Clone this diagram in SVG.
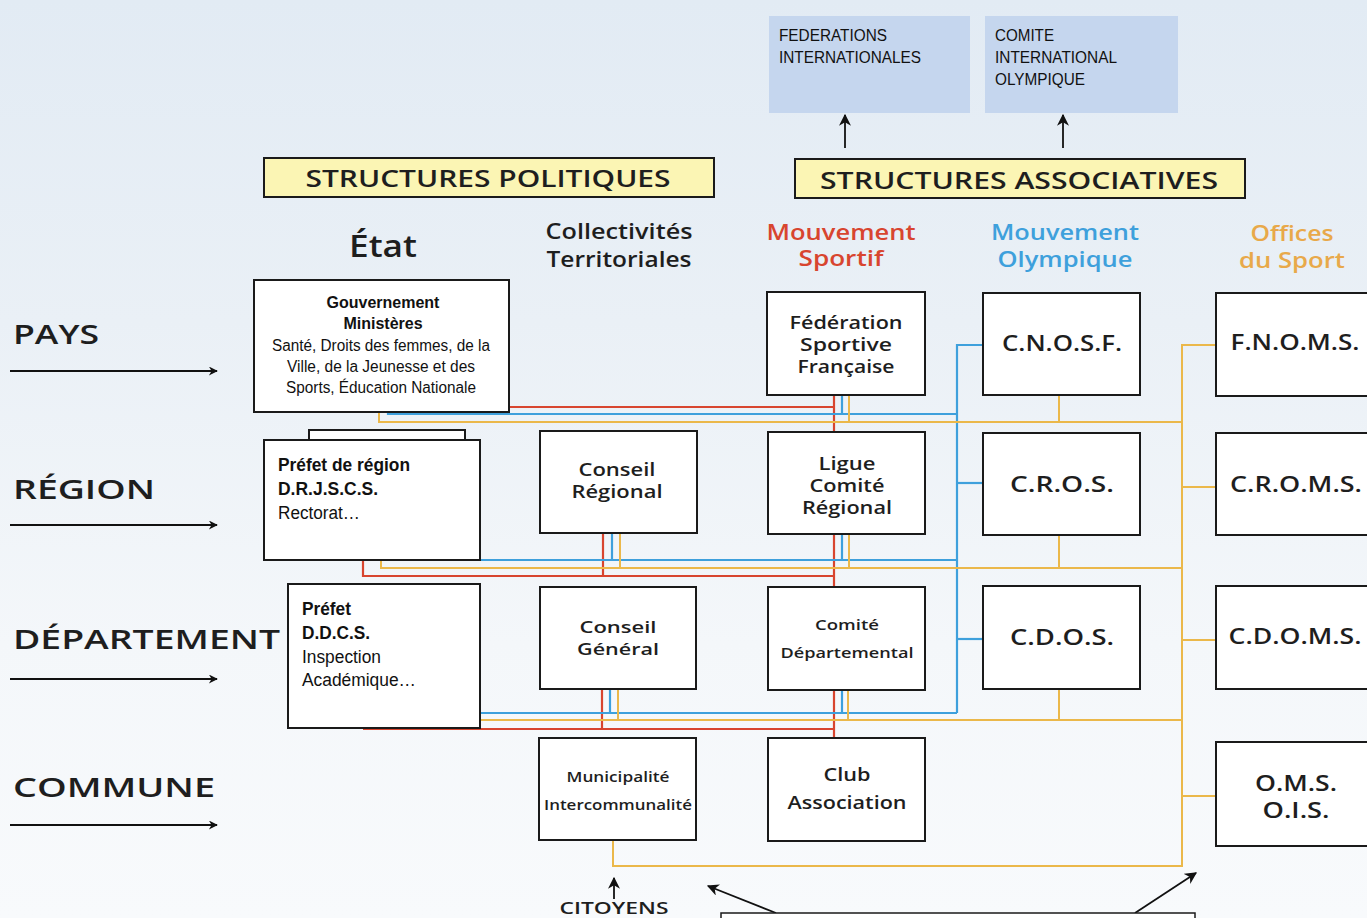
<svg xmlns="http://www.w3.org/2000/svg" width="1367" height="918" viewBox="0 0 1367 918">
<defs>
<linearGradient id="bg" x1="0" y1="0" x2="0" y2="1">
<stop offset="0" stop-color="#e2ebf4"/>
<stop offset="0.35" stop-color="#eaf0f6"/>
<stop offset="0.7" stop-color="#f4f7fa"/>
<stop offset="1" stop-color="#f8fafc"/>
</linearGradient>
<marker id="ah" viewBox="0 0 10 10" refX="9" refY="5" markerWidth="10" markerHeight="9" orient="auto" markerUnits="userSpaceOnUse">
<path d="M0,0 L10,5 L0,10 L3,5 z" fill="#111"/>
</marker>
<marker id="ahs" viewBox="0 0 10 10" refX="9" refY="5" markerWidth="12" markerHeight="12" orient="auto" markerUnits="userSpaceOnUse">
<path d="M0,0 L10,5 L0,10 L3,5 z" fill="#111"/>
</marker>
</defs>
<style>
.box{fill:#fff;stroke:#1a1a1a;stroke-width:2}
.hdr{fill:#fbf5b4;stroke:#1a1a1a;stroke-width:2}
.ibox{fill:#c5d6ee;stroke:none}
.fr{font-family:"Open Sans","DejaVu Sans",sans-serif;font-weight:600;fill:#1e1e1e}
.ar{font-family:"Liberation Sans",Arial,sans-serif;fill:#111}
.b{font-weight:bold}
.c{text-anchor:middle}
.red{stroke:#d8452f;stroke-width:2.2;fill:none}
.blue{stroke:#3ea0dc;stroke-width:2.2;fill:none}
.yel{stroke:#ebb84a;stroke-width:2;fill:none}
.blk{stroke:#111;stroke-width:1.8;fill:none}
</style>
<rect x="0" y="0" width="1367" height="918" fill="url(#bg)"/>

<!-- connectors -->
<g id="connectors">
<!-- red -->
<polyline class="red" points="509,407 834,407"/>
<line class="red" x1="834" y1="395" x2="834" y2="432"/>
<line class="red" x1="834" y1="534" x2="834" y2="587"/>
<line class="red" x1="834" y1="690" x2="834" y2="738"/>
<polyline class="red" points="363,560 363,576 834,576"/>
<line class="red" x1="603" y1="533" x2="603" y2="576"/>
<polyline class="red" points="363,729 834,729"/>
<line class="red" x1="602" y1="689" x2="602" y2="729"/>
<!-- blue -->
<polyline class="blue" points="388,412 388,414 957,414"/>
<line class="blue" x1="842" y1="395" x2="842" y2="414"/>
<polyline class="blue" points="480,560 957,560"/>
<line class="blue" x1="612" y1="533" x2="612" y2="560"/>
<line class="blue" x1="842" y1="534" x2="842" y2="560"/>
<polyline class="blue" points="480,713 957,713"/>
<line class="blue" x1="610" y1="689" x2="610" y2="713"/>
<line class="blue" x1="842" y1="690" x2="842" y2="713"/>
<polyline class="blue" points="983,345 957,345 957,713"/>
<line class="blue" x1="957" y1="483" x2="983" y2="483"/>
<line class="blue" x1="957" y1="639" x2="983" y2="639"/>
<!-- yellow -->
<polyline class="yel" points="379,412 379,422 1182,422"/>
<line class="yel" x1="849" y1="395" x2="849" y2="422"/>
<line class="yel" x1="1059" y1="395" x2="1059" y2="422"/>
<polyline class="yel" points="381,560 381,568 1182,568"/>
<line class="yel" x1="620" y1="533" x2="620" y2="568"/>
<line class="yel" x1="849" y1="534" x2="849" y2="568"/>
<line class="yel" x1="1059" y1="535" x2="1059" y2="568"/>
<polyline class="yel" points="480,720 1182,720"/>
<line class="yel" x1="618" y1="689" x2="618" y2="720"/>
<line class="yel" x1="848" y1="690" x2="848" y2="720"/>
<line class="yel" x1="1059" y1="689" x2="1059" y2="720"/>
<polyline class="yel" points="1216,345 1182,345 1182,866 613,866 613,840"/>
<line class="yel" x1="1182" y1="487" x2="1216" y2="487"/>
<line class="yel" x1="1182" y1="640" x2="1216" y2="640"/>
<line class="yel" x1="1182" y1="796" x2="1216" y2="796"/>
<!-- black arrows -->
<line class="blk" x1="845" y1="148" x2="845" y2="115" marker-end="url(#ahs)"/>
<line class="blk" x1="1063" y1="148" x2="1063" y2="115" marker-end="url(#ahs)"/>
<line class="blk" x1="10" y1="371" x2="217" y2="371" marker-end="url(#ah)"/>
<line class="blk" x1="10" y1="525" x2="217" y2="525" marker-end="url(#ah)"/>
<line class="blk" x1="10" y1="679" x2="217" y2="679" marker-end="url(#ah)"/>
<line class="blk" x1="10" y1="825" x2="217" y2="825" marker-end="url(#ah)"/>
<line class="blk" x1="614" y1="899" x2="614" y2="878" marker-end="url(#ahs)"/>
<line class="blk" x1="776" y1="913" x2="708" y2="886" marker-end="url(#ahs)"/>
<line class="blk" x1="1135" y1="913" x2="1196" y2="873" marker-end="url(#ahs)"/>
</g>

<!-- international boxes -->
<g id="fi">
<rect class="ibox" x="769" y="16" width="201" height="97"/>
<text class="ar" font-size="16" x="779" y="41" textLength="108" lengthAdjust="spacingAndGlyphs">FEDERATIONS</text>
<text class="ar" font-size="16" x="779" y="63" textLength="142" lengthAdjust="spacingAndGlyphs">INTERNATIONALES</text>
</g>
<g id="cio">
<rect class="ibox" x="985" y="16" width="193" height="97"/>
<text class="ar" font-size="16" x="995" y="41" textLength="59" lengthAdjust="spacingAndGlyphs">COMITE</text>
<text class="ar" font-size="16" x="995" y="63" textLength="122" lengthAdjust="spacingAndGlyphs">INTERNATIONAL</text>
<text class="ar" font-size="16" x="995" y="85" textLength="90" lengthAdjust="spacingAndGlyphs">OLYMPIQUE</text>
</g>

<!-- header boxes -->
<g id="h-politiques">
<rect class="hdr" x="264" y="158" width="450" height="39"/>
<text class="fr c" font-size="24" x="488" y="187" textLength="365" lengthAdjust="spacingAndGlyphs">STRUCTURES POLITIQUES</text>
</g>
<g id="h-associatives">
<rect class="hdr" x="795" y="159" width="450" height="39"/>
<text class="fr c" font-size="24" x="1019" y="189" textLength="398" lengthAdjust="spacingAndGlyphs">STRUCTURES ASSOCIATIVES</text>
</g>

<!-- column titles -->
<g id="col-etat"><text class="fr c" font-size="30" x="383" y="257" textLength="68" lengthAdjust="spacingAndGlyphs">État</text></g>
<g id="col-collectivites">
<text class="fr c" font-size="21" x="619" y="239" textLength="147" lengthAdjust="spacingAndGlyphs">Collectivités</text>
<text class="fr c" font-size="21" x="619" y="267" textLength="145" lengthAdjust="spacingAndGlyphs">Territoriales</text>
</g>
<g id="col-sportif">
<text class="fr c" font-size="21" x="841" y="240" style="fill:#d8452f" textLength="149" lengthAdjust="spacingAndGlyphs">Mouvement</text>
<text class="fr c" font-size="21" x="841" y="266" style="fill:#d8452f" textLength="85" lengthAdjust="spacingAndGlyphs">Sportif</text>
</g>
<g id="col-olympique">
<text class="fr c" font-size="21" x="1065" y="240" style="fill:#3ea0dc" textLength="148" lengthAdjust="spacingAndGlyphs">Mouvement</text>
<text class="fr c" font-size="21" x="1065" y="267" style="fill:#3ea0dc" textLength="135" lengthAdjust="spacingAndGlyphs">Olympique</text>
</g>
<g id="col-offices">
<text class="fr c" font-size="21" x="1292" y="241" style="fill:#e8a94a" textLength="83" lengthAdjust="spacingAndGlyphs">Offices</text>
<text class="fr c" font-size="21" x="1292" y="268" style="fill:#e8a94a" textLength="106" lengthAdjust="spacingAndGlyphs">du Sport</text>
</g>

<!-- row labels -->
<g id="row-pays"><text class="fr" font-size="27" x="13" y="344" textLength="86" lengthAdjust="spacingAndGlyphs">PAYS</text></g>
<g id="row-region"><text class="fr" font-size="27" x="13" y="499" textLength="142" lengthAdjust="spacingAndGlyphs">RÉGION</text></g>
<g id="row-departement"><text class="fr" font-size="27" x="13" y="649" textLength="267" lengthAdjust="spacingAndGlyphs">DÉPARTEMENT</text></g>
<g id="row-commune"><text class="fr" font-size="27" x="13" y="797" textLength="202" lengthAdjust="spacingAndGlyphs">COMMUNE</text></g>

<!-- Etat column -->
<g id="gouvernement">
<rect class="box" x="254" y="280" width="255" height="132"/>
<text class="ar b c" font-size="16" x="383" y="308">Gouvernement</text>
<text class="ar b c" font-size="16" x="383" y="329">Ministères</text>
<text class="ar c" font-size="16" x="381" y="351" textLength="218" lengthAdjust="spacingAndGlyphs">Santé, Droits des femmes, de la</text>
<text class="ar c" font-size="16" x="381" y="372" textLength="188" lengthAdjust="spacingAndGlyphs">Ville, de la Jeunesse et des</text>
<text class="ar c" font-size="16" x="381" y="393" textLength="190" lengthAdjust="spacingAndGlyphs">Sports, Éducation Nationale</text>
</g>
<g id="prefet-region">
<rect class="box" x="309" y="430" width="156" height="30"/>
<rect class="box" x="264" y="440" width="216" height="120"/>
<text class="ar b" font-size="18" x="278" y="471" textLength="132" lengthAdjust="spacingAndGlyphs">Préfet de région</text>
<text class="ar b" font-size="18" x="278" y="495" textLength="100" lengthAdjust="spacingAndGlyphs">D.R.J.S.C.S.</text>
<text class="ar" font-size="18" x="278" y="519" textLength="82" lengthAdjust="spacingAndGlyphs">Rectorat…</text>
</g>
<g id="prefet">
<rect class="box" x="288" y="584" width="192" height="144"/>
<text class="ar b" font-size="18" x="302" y="615" textLength="49" lengthAdjust="spacingAndGlyphs">Préfet</text>
<text class="ar b" font-size="18" x="302" y="639" textLength="68" lengthAdjust="spacingAndGlyphs">D.D.C.S.</text>
<text class="ar" font-size="18" x="302" y="663" textLength="79" lengthAdjust="spacingAndGlyphs">Inspection</text>
<text class="ar" font-size="18" x="302" y="686" textLength="114" lengthAdjust="spacingAndGlyphs">Académique…</text>
</g>

<!-- Collectivites column -->
<g id="conseil-regional">
<rect class="box" x="540" y="431" width="157" height="102"/>
<text class="fr c" font-size="18" x="617" y="476" textLength="77" lengthAdjust="spacingAndGlyphs">Conseil</text>
<text class="fr c" font-size="18" x="617" y="498" textLength="91" lengthAdjust="spacingAndGlyphs">Régional</text>
</g>
<g id="conseil-general">
<rect class="box" x="540" y="587" width="156" height="102"/>
<text class="fr c" font-size="17" x="618" y="633" textLength="77" lengthAdjust="spacingAndGlyphs">Conseil</text>
<text class="fr c" font-size="17" x="618" y="655" textLength="82" lengthAdjust="spacingAndGlyphs">Général</text>
</g>
<g id="municipalite">
<rect class="box" x="539" y="738" width="157" height="102"/>
<text class="fr c" font-size="15" x="618" y="782" textLength="103" lengthAdjust="spacingAndGlyphs">Municipalité</text>
<text class="fr c" font-size="15" x="618" y="810" textLength="148" lengthAdjust="spacingAndGlyphs">Intercommunalité</text>
</g>

<!-- Mouvement sportif -->
<g id="federation">
<rect class="box" x="767" y="292" width="158" height="103"/>
<text class="fr c" font-size="18" x="846" y="329" textLength="113" lengthAdjust="spacingAndGlyphs">Fédération</text>
<text class="fr c" font-size="18" x="846" y="351" textLength="92" lengthAdjust="spacingAndGlyphs">Sportive</text>
<text class="fr c" font-size="18" x="846" y="373" textLength="97" lengthAdjust="spacingAndGlyphs">Française</text>
</g>
<g id="ligue">
<rect class="box" x="768" y="432" width="157" height="102"/>
<text class="fr c" font-size="18" x="847" y="470" textLength="57" lengthAdjust="spacingAndGlyphs">Ligue</text>
<text class="fr c" font-size="18" x="847" y="492" textLength="75" lengthAdjust="spacingAndGlyphs">Comité</text>
<text class="fr c" font-size="18" x="847" y="514" textLength="90" lengthAdjust="spacingAndGlyphs">Régional</text>
</g>
<g id="comite-departemental">
<rect class="box" x="768" y="587" width="157" height="103"/>
<text class="fr c" font-size="15" x="847" y="630" textLength="64" lengthAdjust="spacingAndGlyphs">Comité</text>
<text class="fr c" font-size="15" x="847" y="658" textLength="133" lengthAdjust="spacingAndGlyphs">Départemental</text>
</g>
<g id="club">
<rect class="box" x="768" y="738" width="157" height="103"/>
<text class="fr c" font-size="18" x="847" y="781" textLength="47" lengthAdjust="spacingAndGlyphs">Club</text>
<text class="fr c" font-size="18" x="847" y="809" textLength="119" lengthAdjust="spacingAndGlyphs">Association</text>
</g>

<!-- Mouvement olympique -->
<g id="cnosf">
<rect class="box" x="983" y="293" width="157" height="102"/>
<text class="fr c" font-size="21" x="1062" y="351" textLength="120" lengthAdjust="spacingAndGlyphs">C.N.O.S.F.</text>
</g>
<g id="cros">
<rect class="box" x="983" y="433" width="157" height="102"/>
<text class="fr c" font-size="21" x="1062" y="492" textLength="104" lengthAdjust="spacingAndGlyphs">C.R.O.S.</text>
</g>
<g id="cdos">
<rect class="box" x="983" y="586" width="157" height="103"/>
<text class="fr c" font-size="21" x="1062" y="645" textLength="104" lengthAdjust="spacingAndGlyphs">C.D.O.S.</text>
</g>

<!-- Offices du sport -->
<g id="fnoms">
<rect class="box" x="1216" y="293" width="170" height="103"/>
<text class="fr c" font-size="21" x="1295" y="350" textLength="129" lengthAdjust="spacingAndGlyphs">F.N.O.M.S.</text>
</g>
<g id="croms">
<rect class="box" x="1216" y="433" width="170" height="102"/>
<text class="fr c" font-size="21" x="1296" y="492" textLength="132" lengthAdjust="spacingAndGlyphs">C.R.O.M.S.</text>
</g>
<g id="cdoms">
<rect class="box" x="1216" y="586" width="170" height="103"/>
<text class="fr c" font-size="21" x="1295" y="644" textLength="133" lengthAdjust="spacingAndGlyphs">C.D.O.M.S.</text>
</g>
<g id="oms">
<rect class="box" x="1216" y="742" width="170" height="104"/>
<text class="fr c" font-size="21" x="1296" y="791" textLength="82" lengthAdjust="spacingAndGlyphs">O.M.S.</text>
<text class="fr c" font-size="21" x="1296" y="818" textLength="67" lengthAdjust="spacingAndGlyphs">O.I.S.</text>
</g>

<!-- bottom -->
<g id="citoyens">
<text class="fr c" font-size="17" x="614" y="914" textLength="109" lengthAdjust="spacingAndGlyphs">CITOYENS</text>
</g>
<g id="bottom-box">
<rect class="box" x="721" y="913" width="474" height="20" style="stroke-width:1.5"/>
</g>
</svg>
